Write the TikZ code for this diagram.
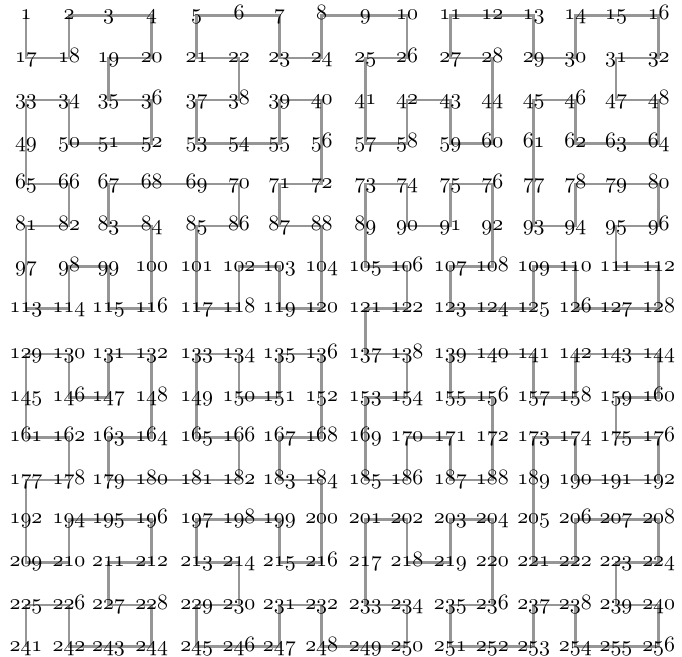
\documentclass[tikz,border=0pt]{standalone}
\usepackage{tikz}
\pgfdeclarelayer{bg}
\pgfsetlayers{bg,main}
\definecolor{linegray}{RGB}{150,150,150}
\newcommand{\osn}[1]{\ensuremath{\mathnormal{#1}}}
\begin{document}
\begin{tikzpicture}[x=0.5pt,y=-0.5pt,
  num/.style={inner sep=0pt,text height=1ex,text depth=0pt,font=\fontsize{10.95}{13}\selectfont},
  link/.style={draw=linegray,line width=1.25pt,line join=miter}]
\useasboundingbox (0,0) rectangle (682,657);
\foreach \yy [count=\r from 0] in {15.5,58,100,143.5,184,226,266.7,308.5,354,397.3,437.5,480,519.5,562.3,605,646.7}{
  \foreach \xx [count=\c] in {26,69,108.5,151.7,196.7,239,279.3,321.7,365.3,407,450.3,492.3,533.7,575.3,616,658.7}{
    \pgfmathtruncatemacro{\k}{16*\r+\c}
    \ifnum\k=193 \def\lab{192}\else\let\lab\k\fi
    \node[num] (n\k) at (\xx,\yy) {\osn{\lab}};
  }
}
\begin{pgfonlayer}{bg}
\draw[link] (n1.center) \foreach \k in {17,18,2,3,4,20,19,35,36,52,51,50,34,33,49,65,66,82,81,97,113,114,98,99,115,116,100,84,83,67,68,69,70,86,85,101,117,118,102,103,119,120,104,88,87,71,72,56,40,39,55,54,53,37,38,22,21,5,6,7,23,24,8,9,10,26,25,41,57,58,42,43,59,60,44,28,27,11,12,13,29,30,14,15,16,32,31,47,48,64,63,62,46,45,61,77,93,94,78,79,80,96,95,111,112,128,127,126,110,109,125,124,123,107,108,92,76,75,91,90,74,73,89,105,106,122,121,137,138,154,153,169,185,186,170,171,187,188,172,156,155,139,140,141,157,158,142,143,144,160,159,175,176,192,191,190,174,173,189,205,221,222,206,207,208,224,223,239,240,256,255,254,238,237,253,252,251,235,236,220,204,203,219,218,202,201,217,233,234,250,249,248,232,231,247,246,245,229,230,214,213,197,198,199,215,216,200,184,183,167,168,152,136,135,151,150,134,133,149,165,166,182,181,180,179,163,164,148,132,131,147,146,130,129,145,161,162,178,177,193,209,210,194,195,196,212,211,227,228,244,243,242,226,225,241} { -- (n\k.center) };
\end{pgfonlayer}
\end{tikzpicture}
\end{document}
